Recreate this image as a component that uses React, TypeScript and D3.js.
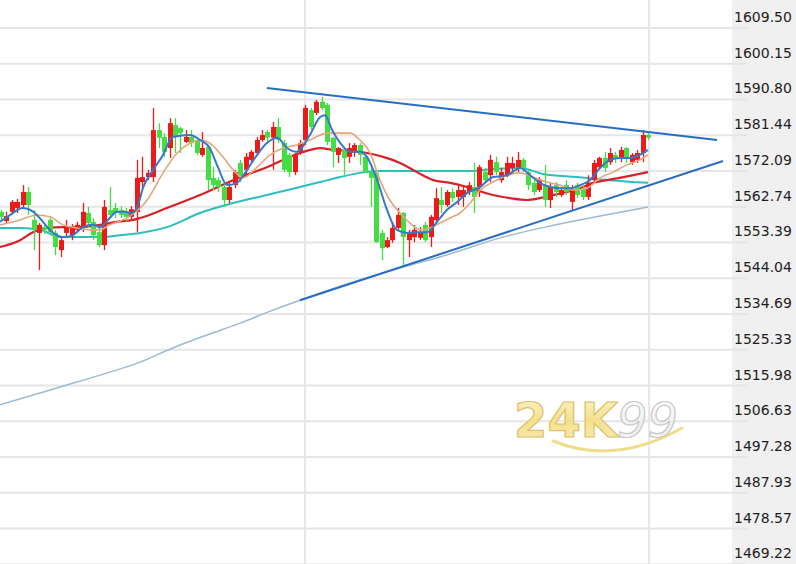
import * as d3 from 'd3';

const W = 796;
const H = 564;

// [open, high, low, close]
const candles: [number, number, number, number][] = [
  [1561.4, 1561.9, 1558.8, 1560.1],
  [1559.0, 1561.4, 1558.2, 1560.3],
  [1561.4, 1564.5, 1560.8, 1564.0],
  [1562.4, 1564.8, 1561.1, 1564.0],
  [1563.2, 1568.4, 1562.4, 1566.6],
  [1566.6, 1567.9, 1560.6, 1563.2],
  [1559.3, 1561.9, 1551.4, 1556.7],
  [1555.9, 1558.5, 1546.2, 1558.0],
  [1557.4, 1558.2, 1555.6, 1556.7],
  [1559.3, 1560.3, 1555.3, 1556.1],
  [1555.9, 1556.7, 1550.1, 1552.2],
  [1551.4, 1554.8, 1549.6, 1554.0],
  [1555.9, 1559.3, 1554.6, 1557.2],
  [1555.3, 1558.2, 1554.0, 1557.2],
  [1556.7, 1558.8, 1556.1, 1558.0],
  [1557.4, 1563.7, 1556.1, 1561.4],
  [1561.1, 1562.7, 1557.2, 1558.5],
  [1558.8, 1559.8, 1554.0, 1555.3],
  [1556.1, 1557.4, 1552.2, 1552.7],
  [1552.7, 1564.5, 1551.4, 1562.7],
  [1561.9, 1567.9, 1560.1, 1560.6],
  [1562.4, 1563.7, 1559.8, 1561.1],
  [1561.9, 1562.9, 1559.8, 1560.6],
  [1561.4, 1562.4, 1558.8, 1560.1],
  [1560.1, 1562.9, 1559.3, 1562.1],
  [1561.4, 1575.0, 1556.1, 1570.3],
  [1569.2, 1575.8, 1567.6, 1570.5],
  [1570.5, 1572.4, 1569.7, 1571.6],
  [1570.5, 1588.6, 1569.2, 1582.8],
  [1582.8, 1584.6, 1578.1, 1580.8],
  [1581.0, 1582.0, 1575.8, 1577.1],
  [1578.1, 1585.9, 1575.5, 1584.6],
  [1584.1, 1585.9, 1576.8, 1581.0],
  [1583.3, 1583.6, 1576.8, 1582.0],
  [1579.7, 1582.8, 1579.4, 1581.0],
  [1581.0, 1582.8, 1578.4, 1579.4],
  [1580.2, 1581.0, 1576.3, 1576.8],
  [1576.3, 1582.3, 1575.8, 1578.1],
  [1578.4, 1578.9, 1567.1, 1569.7],
  [1570.3, 1573.1, 1567.1, 1568.4],
  [1569.7, 1570.5, 1566.6, 1567.9],
  [1567.9, 1569.0, 1562.7, 1564.5],
  [1564.5, 1569.0, 1563.7, 1567.9],
  [1568.4, 1572.4, 1567.6, 1571.8],
  [1574.2, 1575.0, 1569.2, 1570.5],
  [1572.4, 1576.8, 1570.5, 1575.8],
  [1575.0, 1577.6, 1574.4, 1577.1],
  [1576.8, 1581.0, 1576.3, 1580.2],
  [1580.2, 1582.8, 1579.7, 1581.5],
  [1582.3, 1582.8, 1579.4, 1580.8],
  [1580.8, 1584.9, 1572.4, 1583.6],
  [1583.6, 1585.9, 1579.4, 1580.2],
  [1579.4, 1580.2, 1571.8, 1572.4],
  [1576.3, 1576.8, 1570.5, 1571.8],
  [1571.8, 1576.8, 1571.0, 1576.3],
  [1577.1, 1580.2, 1576.3, 1579.4],
  [1580.2, 1589.4, 1578.9, 1588.6],
  [1588.0, 1588.6, 1582.8, 1583.6],
  [1587.3, 1590.7, 1586.7, 1590.2],
  [1590.2, 1591.5, 1588.0, 1588.6],
  [1589.4, 1589.9, 1578.9, 1579.7],
  [1580.8, 1581.0, 1573.1, 1577.1],
  [1576.3, 1578.4, 1574.2, 1578.1],
  [1577.6, 1578.4, 1571.0, 1575.5],
  [1575.8, 1579.4, 1574.2, 1578.1],
  [1577.1, 1579.4, 1575.8, 1578.9],
  [1578.9, 1579.4, 1573.7, 1576.3],
  [1575.8, 1576.8, 1571.6, 1571.8],
  [1571.8, 1573.1, 1562.7, 1570.3],
  [1571.6, 1571.8, 1553.3, 1553.5],
  [1555.9, 1556.7, 1548.8, 1551.9],
  [1552.2, 1554.8, 1551.9, 1554.0],
  [1554.0, 1558.5, 1553.3, 1557.2],
  [1557.2, 1562.4, 1556.7, 1560.6],
  [1561.1, 1561.4, 1547.0, 1554.8],
  [1554.0, 1556.7, 1549.6, 1555.9],
  [1554.8, 1558.0, 1553.5, 1556.7],
  [1554.6, 1557.4, 1554.0, 1555.9],
  [1558.0, 1558.8, 1553.5, 1554.0],
  [1554.8, 1560.6, 1552.2, 1560.1],
  [1559.3, 1567.6, 1558.8, 1565.0],
  [1564.5, 1567.9, 1561.1, 1563.2],
  [1563.2, 1567.1, 1562.7, 1566.6],
  [1566.6, 1567.6, 1564.0, 1565.0],
  [1565.3, 1568.4, 1563.2, 1567.1],
  [1565.3, 1567.9, 1562.7, 1567.1],
  [1566.6, 1569.2, 1565.8, 1568.4],
  [1567.9, 1574.2, 1561.1, 1565.3],
  [1567.9, 1573.7, 1565.3, 1573.1],
  [1571.8, 1572.9, 1569.0, 1569.7],
  [1571.0, 1576.3, 1569.2, 1575.0],
  [1574.4, 1575.8, 1571.0, 1571.8],
  [1569.7, 1572.9, 1569.0, 1571.8],
  [1571.0, 1575.8, 1570.5, 1574.2],
  [1572.9, 1575.8, 1571.8, 1574.2],
  [1573.1, 1577.1, 1571.8, 1575.0],
  [1575.0, 1575.5, 1571.8, 1572.9],
  [1571.8, 1572.4, 1567.1, 1568.4],
  [1569.0, 1569.7, 1565.8, 1566.6],
  [1567.1, 1570.5, 1566.6, 1569.7],
  [1568.4, 1573.7, 1562.7, 1564.5],
  [1564.5, 1569.0, 1562.4, 1567.9],
  [1568.4, 1569.2, 1565.3, 1566.6],
  [1565.8, 1567.9, 1565.3, 1567.1],
  [1568.4, 1569.7, 1565.8, 1566.6],
  [1564.0, 1568.4, 1561.9, 1567.1],
  [1568.4, 1569.0, 1565.0, 1565.8],
  [1567.6, 1568.4, 1564.5, 1565.3],
  [1565.3, 1571.0, 1564.5, 1569.0],
  [1569.7, 1575.0, 1569.2, 1574.2],
  [1573.1, 1575.8, 1572.4, 1575.5],
  [1575.5, 1577.1, 1571.8, 1572.9],
  [1574.4, 1578.1, 1573.7, 1576.8],
  [1576.3, 1577.1, 1574.2, 1575.5],
  [1575.5, 1578.4, 1574.4, 1577.6],
  [1578.1, 1578.4, 1574.2, 1575.5],
  [1574.4, 1576.8, 1573.7, 1576.3],
  [1575.0, 1577.6, 1574.2, 1576.8],
  [1576.8, 1582.8, 1574.4, 1581.5],
  [1581.5, 1582.3, 1580.2, 1580.8],
];

const priceTicks = [
  1609.5, 1600.15, 1590.8, 1581.44, 1572.09, 1562.74, 1553.39, 1544.04,
  1534.69, 1525.33, 1515.98, 1506.63, 1497.28, 1487.93, 1478.57, 1469.22,
];

// moving averages: [candle index, price]
const ma5: [number, number][] = [
  [-0.2, 1558.8], [1.7, 1560.6], [4.0, 1562.4], [6.6, 1560.6], [7.7, 1558.8],
  [9.6, 1555.9], [11.4, 1554.8], [13.2, 1555.3], [15.1, 1557.4], [16.9, 1558.0],
  [18.2, 1557.4], [20.0, 1559.8], [21.3, 1561.4], [22.8, 1561.4], [24.1, 1561.1],
  [25.2, 1563.2], [26.1, 1567.6], [28.0, 1572.4], [29.6, 1575.8], [31.6, 1581.0],
  [34.8, 1581.5], [36.6, 1580.2], [38.4, 1578.1], [39.9, 1573.1], [41.6, 1568.4],
  [43.4, 1569.0], [44.9, 1571.6], [47.1, 1576.3], [48.9, 1579.4], [50.8, 1580.8],
  [52.6, 1578.1], [54.4, 1577.1], [56.8, 1581.5], [58.7, 1586.2], [59.6, 1586.7],
  [60.9, 1582.8], [62.4, 1579.4], [64.2, 1577.1], [66.0, 1577.1], [67.3, 1575.8],
  [69.2, 1569.7], [71.0, 1561.9], [72.8, 1556.7], [74.7, 1555.9], [76.5, 1556.1],
  [78.4, 1556.1], [80.2, 1558.8], [82.0, 1561.9], [83.9, 1564.0], [85.7, 1566.3],
  [88.1, 1567.9], [90.5, 1570.5], [93.1, 1571.0], [95.5, 1572.9], [97.3, 1571.0],
  [99.1, 1569.0], [101.0, 1567.9], [102.8, 1567.6], [104.7, 1567.6], [106.5, 1568.4],
  [108.3, 1569.7], [110.2, 1572.9], [112.0, 1575.0], [113.8, 1575.5], [115.7, 1575.5],
  [117.5, 1576.3], [119.0, 1577.6],
];

const ma10: [number, number][] = [
  [-0.2, 1558.0], [3.5, 1559.3], [6.6, 1560.6], [9.0, 1560.1], [11.4, 1558.0],
  [14.0, 1557.2], [16.4, 1556.7], [18.2, 1556.7], [20.0, 1558.0], [22.4, 1559.3],
  [23.7, 1560.3], [26.9, 1564.5], [29.8, 1571.6], [32.4, 1576.8], [34.8, 1579.4],
  [36.6, 1580.2], [38.4, 1579.4], [40.8, 1575.8], [42.7, 1572.4], [44.5, 1570.3],
  [47.1, 1573.1], [49.5, 1576.3], [51.9, 1578.1], [54.4, 1578.9], [56.8, 1580.2],
  [60.0, 1582.0], [62.4, 1582.0], [64.2, 1582.0], [66.0, 1580.2], [67.9, 1576.8],
  [69.7, 1569.7], [71.5, 1564.5], [73.4, 1561.1], [75.2, 1558.5], [77.1, 1556.7],
  [78.9, 1557.2], [80.7, 1558.5], [82.6, 1559.8], [84.4, 1561.1], [86.3, 1563.7],
  [88.1, 1567.1], [90.5, 1569.2], [93.1, 1571.0], [95.5, 1571.6], [97.8, 1570.5],
  [100.4, 1569.2], [102.8, 1568.4], [105.2, 1567.1], [107.8, 1567.6], [110.2, 1570.3],
  [112.6, 1571.8], [115.1, 1573.7], [117.5, 1575.0], [119.0, 1576.3],
];

const ma20: [number, number][] = [
  [-0.2, 1552.2], [3.5, 1554.0], [5.9, 1556.1], [8.5, 1557.2], [11.4, 1557.4],
  [14.5, 1557.4], [18.2, 1558.0], [21.3, 1558.8], [24.3, 1559.3], [25.6, 1559.8],
  [30.5, 1562.4], [36.6, 1565.8], [42.7, 1569.7], [48.9, 1573.1], [55.0, 1576.8],
  [58.7, 1578.1], [61.1, 1577.6], [64.2, 1577.3], [67.3, 1576.8], [70.3, 1575.8],
  [73.4, 1574.2], [76.5, 1571.8], [79.5, 1569.7], [82.6, 1569.0], [85.7, 1567.9],
  [87.5, 1567.1], [90.5, 1565.8], [93.6, 1565.0], [96.7, 1564.5], [99.1, 1565.0],
  [101.5, 1565.8], [104.1, 1566.6], [106.5, 1567.6], [108.9, 1569.0], [111.5, 1569.7],
  [113.8, 1570.3], [116.3, 1571.0], [119.0, 1571.8],
];

const ma60: [number, number][] = [
  [-0.2, 1557.2], [3.5, 1557.2], [7.2, 1556.7], [10.9, 1554.8], [14.5, 1554.8],
  [18.2, 1554.8], [21.9, 1555.3], [25.6, 1555.9], [30.5, 1557.4],
  [36.6, 1561.1], [42.7, 1563.7], [48.9, 1565.8], [55.0, 1567.9], [58.7, 1569.2],
  [62.4, 1570.5], [66.0, 1571.6], [69.7, 1572.1], [73.4, 1572.1], [79.5, 1572.1],
  [86.3, 1572.1], [90.5, 1572.6], [95.5, 1572.9], [99.7, 1571.3], [105.9, 1570.5],
  [112.0, 1569.7], [119.0, 1569.0],
];

const ma200: [number, number][] = [
  [-0.3, 1510.9], [5.9, 1513.5], [12.1, 1516.1], [18.2, 1518.7], [25.6, 1522.1],
  [31.6, 1525.8], [37.9, 1529.2], [44.0, 1532.3], [50.0, 1535.7], [55.0, 1538.3],
  [64.2, 1542.8], [73.4, 1546.7], [82.6, 1550.4], [91.8, 1554.6], [101.0, 1557.7],
  [110.2, 1560.3], [119.0, 1562.7],
];

const trendUpper: [number, number][] = [[48.9, 1593.8], [131.7, 1580.2]];
const trendLower: [number, number][] = [[55.0, 1538.3], [132.8, 1574.7]];

// session separators (candle index)
const sessionBreaks = [55.9, 119.2];

const UP = '#ee1a1a';
const DOWN = '#44dd44';

export default function App() {
  const x = d3.scaleLinear().domain([0, candles.length - 1]).range([1, 648]);
  const y = d3
    .scaleLinear()
    .domain([priceTicks[priceTicks.length - 1], priceTicks[0]])
    .range([564.25, 28]);

  const line = d3
    .line<[number, number]>()
    .x((d) => x(d[0]))
    .y((d) => y(d[1]))
    .curve(d3.curveMonotoneX);

  const straight = d3
    .line<[number, number]>()
    .x((d) => x(d[0]))
    .y((d) => y(d[1]));

  const axisLeft = 732;

  return (
    <svg
      width={W}
      height={H}
      style={{ position: 'fixed', left: 0, top: 0, background: '#fff' }}
    >
      <defs>
        <clipPath id="plot">
          <rect x={0} y={0} width={axisLeft} height={H} />
        </clipPath>
        <linearGradient id="gold" x1="0" y1="0" x2="0" y2="1">
          <stop offset="0%" stopColor="#fdf6d2" />
          <stop offset="50%" stopColor="#f3e08e" />
          <stop offset="100%" stopColor="#faedb8" />
        </linearGradient>
        <linearGradient id="silver" x1="0" y1="0" x2="0" y2="1">
          <stop offset="0%" stopColor="#ffffff" />
          <stop offset="60%" stopColor="#efefef" />
          <stop offset="100%" stopColor="#fbfbfb" />
        </linearGradient>
      </defs>

      <rect x={axisLeft} y={0} width={W - axisLeft} height={H} fill="#f0f0f0" />

      {priceTicks.map((t) => (
        <line
          key={`g${t}`}
          x1={0}
          x2={747}
          y1={y(t)}
          y2={y(t)}
          stroke="#e6e6e6"
          strokeWidth={2}
        />
      ))}
      {sessionBreaks.map((b) => (
        <line
          key={`v${b}`}
          x1={x(b)}
          x2={x(b)}
          y1={0}
          y2={H}
          stroke="#e6e6e6"
          strokeWidth={2}
        />
      ))}

      {priceTicks.map((t) => (
        <text
          key={`t${t}`}
          x={734}
          y={y(t) - 6}
          fontFamily="DejaVu Sans, Verdana, sans-serif"
          fontSize={14}
          fill="#1e1e1e"
        >
          {t.toFixed(2)}
        </text>
      ))}

      {/* watermark */}
      <g>
        <path
          d="M553,441 Q615,466 682,428"
          fill="none"
          stroke="#efdc8c"
          strokeWidth={3}
          strokeLinecap="round"
        />
        <text
          x={514}
          y={437}
          fontFamily="DejaVu Sans, sans-serif"
          fontWeight="bold"
          fontSize={48}
          fill="url(#gold)"
          stroke="#dcc268"
          strokeWidth={1.2}
        >
          24K
        </text>
        <text
          x={617}
          y={437}
          fontFamily="DejaVu Sans, sans-serif"
          fontStyle="italic"
          fontSize={48}
          fill="url(#silver)"
          stroke="#c8c8c8"
          strokeWidth={1.2}
        >
          99
        </text>
      </g>

      <g clipPath="url(#plot)">
        <path d={line(ma200) ?? ''} fill="none" stroke="#9dbad2" strokeWidth={1.5} />
        <path d={line(ma60) ?? ''} fill="none" stroke="#2cbfbf" strokeWidth={2} />
        <path d={line(ma20) ?? ''} fill="none" stroke="#d8222a" strokeWidth={2.2} />

        {candles.map(([o, h, l, c], i) => {
          const cx = Math.round(x(i));
          const color = c >= o ? UP : DOWN;
          const top = y(Math.max(o, c));
          const bh = Math.max(1, y(Math.min(o, c)) - top);
          return (
            <g key={i}>
              <line
                x1={cx + 0.5}
                x2={cx + 0.5}
                y1={y(h)}
                y2={y(l)}
                stroke={color}
                strokeWidth={1.3}
              />
              <rect x={cx - 2} y={top} width={5} height={bh} fill={color} />
            </g>
          );
        })}

        <path d={line(ma10) ?? ''} fill="none" stroke="#e2a77e" strokeWidth={1.6} />
        <path d={line(ma5) ?? ''} fill="none" stroke="#3778c8" strokeWidth={2} />

        <path d={straight(trendUpper) ?? ''} fill="none" stroke="#2a6cc4" strokeWidth={2} />
        <path d={straight(trendLower) ?? ''} fill="none" stroke="#2a6cc4" strokeWidth={2} />
      </g>
    </svg>
  );
}
